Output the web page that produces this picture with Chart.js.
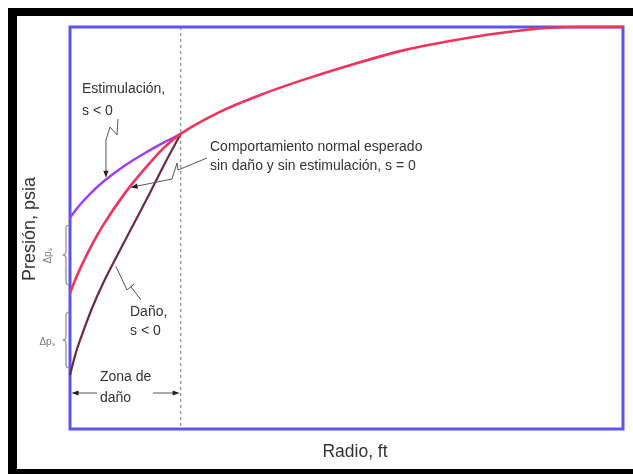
<!DOCTYPE html>
<html>
<head>
<meta charset="utf-8">
<script src="https://cdn.jsdelivr.net/npm/chart.js@4.4.1/dist/chart.umd.min.js"></script>
<style>
  html, body { margin: 0; padding: 0; background: #fff; width: 633px; height: 474px; overflow: hidden; }
  #frame { position: absolute; left: 8px; top: 8px; width: 700px; height: 453px;
           border-top: 8px solid #000; border-left: 9px solid #000; border-bottom: 8px solid #000; }
  canvas { position: absolute; left: 0; top: 0; }
</style>
</head>
<body>
<div id="frame"></div>
<canvas id="c" width="633" height="474"></canvas>
<script>
// Radius of the altered (damaged / stimulated) zone around the wellbore
const damageRadius = 20;

// Near-wellbore radii, from the wellbore wall out to the altered-zone edge
const nearRadius = [0, 1, 2, 4, 6, 10, 14, 17, 20];
// Pressure inside the altered zone for each condition
const pStimulated = [52.5, 54.4, 56.1, 59.0, 61.5, 65.6, 69.0, 71.3, 73.4];
const pNormal     = [33.8, 37.3, 40.4, 45.9, 50.7, 58.8, 65.5, 70.0, 73.4];
const pDamaged    = [13.4, 18.7, 22.8, 30.1, 36.3, 47.0, 57.5, 65.7, 73.4];

// Shared profile beyond the altered zone, out to the drainage radius
const farRadius = [20, 27.1, 34.4, 41.6, 50.6, 59.7, 68.7, 77.8, 86.8, 92.2, 100];
const pFar      = [73.4, 78.9, 83.1, 86.6, 90.5, 94.0, 96.5, 98.5, 99.8, 100, 100];

const pts = (xs, ys) => xs.map((v, i) => ({ x: v, y: ys[i] }));
const normalProfile = pts(nearRadius, pNormal).concat(pts(farRadius.slice(1), pFar.slice(1)));

// linear lookup of a curve's pressure at a given radius
function pressureAt(xs, ys, r) {
  for (let i = 1; i < xs.length; i++) {
    if (r <= xs[i]) {
      const t = (r - xs[i - 1]) / (xs[i] - xs[i - 1]);
      return ys[i - 1] + t * (ys[i] - ys[i - 1]);
    }
  }
  return ys[ys.length - 1];
}

const FONT = "'Liberation Sans', Arial, sans-serif";
const INK = '#333';
const LEADER = '#555';

function arrowHead(ctx, fx, fy, tx, ty, len, half, color) {
  const ang = Math.atan2(ty - fy, tx - fx);
  ctx.save();
  ctx.fillStyle = color;
  ctx.beginPath();
  ctx.moveTo(tx, ty);
  ctx.lineTo(tx - len * Math.cos(ang) + half * Math.sin(ang), ty - len * Math.sin(ang) - half * Math.cos(ang));
  ctx.lineTo(tx - len * Math.cos(ang) - half * Math.sin(ang), ty - len * Math.sin(ang) + half * Math.cos(ang));
  ctx.closePath();
  ctx.fill();
  ctx.restore();
}

function polyline(ctx, p, color, w) {
  ctx.save();
  ctx.strokeStyle = color; ctx.lineWidth = w;
  ctx.beginPath();
  ctx.moveTo(p[0][0], p[0][1]);
  for (let i = 1; i < p.length; i++) ctx.lineTo(p[i][0], p[i][1]);
  ctx.stroke();
  ctx.restore();
}

function brace(ctx, x, y1, y2, w) {
  const ym = (y1 + y2) / 2;
  ctx.save();
  ctx.strokeStyle = '#8a8a8a'; ctx.lineWidth = 1.2;
  ctx.beginPath();
  ctx.moveTo(x + w, y1);
  ctx.quadraticCurveTo(x, y1, x, y1 + w);
  ctx.lineTo(x, ym - w);
  ctx.quadraticCurveTo(x, ym, x - w, ym);
  ctx.quadraticCurveTo(x, ym, x, ym + w);
  ctx.lineTo(x, y2 - w);
  ctx.quadraticCurveTo(x, y2, x + w, y2);
  ctx.stroke();
  ctx.restore();
}

function text(ctx, s, x, y, size, align, color) {
  ctx.save();
  ctx.font = size + 'px ' + FONT;
  ctx.fillStyle = color || INK;
  ctx.textAlign = align || 'left';
  ctx.textBaseline = 'middle';
  ctx.fillText(s, x, y);
  ctx.restore();
}

const figurePlugin = {
  id: 'figure',
  beforeDatasetsDraw(chart) {
    const { ctx, chartArea: a, scales: { x } } = chart;
    ctx.save();
    // edge of the altered zone
    const xd = x.getPixelForValue(damageRadius);
    ctx.strokeStyle = '#9c9c9c'; ctx.lineWidth = 1.5; ctx.setLineDash([3, 3]);
    ctx.beginPath(); ctx.moveTo(xd, a.top); ctx.lineTo(xd, a.bottom); ctx.stroke();
    ctx.setLineDash([]);
    // plot frame
    ctx.strokeStyle = '#5a55ee'; ctx.lineWidth = 3;
    ctx.strokeRect(a.left, a.top, a.right - a.left, a.bottom - a.top);
    ctx.restore();
  },
  afterDatasetsDraw(chart) {
    const { ctx, chartArea: a, scales: { x, y } } = chart;
    const X = v => x.getPixelForValue(v);
    const Y = v => y.getPixelForValue(v);

    // axis titles
    text(ctx, 'Radio, ft', 355, 452, 17.5, 'center');
    ctx.save();
    ctx.translate(30, 229);
    ctx.rotate(-Math.PI / 2);
    text(ctx, 'Presión, psia', 0, 0, 18, 'center');
    ctx.restore();

    // stimulation label and leader
    text(ctx, 'Estimulación,', 82, 89, 14);
    text(ctx, 's < 0', 82, 111, 14);
    const rs = 6.5, sx = X(rs), sy = Y(pressureAt(nearRadius, pStimulated, rs)) - 2;
    polyline(ctx, [[118, 119], [117, 135], [110, 127], [sx, 140], [sx, sy - 5]], LEADER, 1);
    arrowHead(ctx, sx, sy - 10, sx, sy, 7, 2.6, '#222');

    // normal-behaviour label and leader
    text(ctx, 'Comportamiento normal esperado', 210, 147, 14);
    text(ctx, 'sin daño y sin estimulación, s = 0', 210, 166, 14);
    const rn = 10.6, nx = X(rn) + 2, ny = Y(pressureAt(nearRadius, pNormal, rn)) - 1;
    polyline(ctx, [[207, 158], [178, 170], [177, 163], [172, 179], [nx + 5, ny - 1.2]], LEADER, 1);
    arrowHead(ctx, 172, 179, nx, ny, 7, 2.6, '#222');

    // damage label and leader
    text(ctx, 'Daño,', 130, 312, 14);
    text(ctx, 's < 0', 130, 331, 14);
    const rd = 8.3, dx = X(rd), dy = Y(pressureAt(nearRadius, pDamaged, rd)) + 8;
    polyline(ctx, [[141, 300], [131, 287], [134, 284], [127, 290], [dx, dy]], LEADER, 1);

    // skin pressure-drop braces
    brace(ctx, 66, 225, 285, 3.5);
    brace(ctx, 66, 312, 368, 3.5);
    ctx.save();
    ctx.translate(48, 256);
    ctx.rotate(-Math.PI / 2);
    text(ctx, 'Δpₛ', 0, 0, 10, 'center', '#777');
    ctx.restore();
    text(ctx, 'Δpₛ', 47, 342, 10, 'center', '#777');

    // altered-zone width marker
    const zy = 393;
    text(ctx, 'Zona de', 100, 377, 14);
    text(ctx, 'daño', 100, 398, 14);
    polyline(ctx, [[97, zy], [78, zy]], LEADER, 1);
    arrowHead(ctx, 97, zy, X(0) + 1.5, zy, 7, 2.6, '#222');
    polyline(ctx, [[153, zy], [X(damageRadius) - 6, zy]], LEADER, 1);
    arrowHead(ctx, 153, zy, X(damageRadius) - 1, zy, 7, 2.6, '#222');
  }
};

new Chart(document.getElementById('c'), {
  type: 'line',
  data: {
    datasets: [
      { label: 'Normal, s = 0', data: normalProfile, borderColor: '#f2325c', borderWidth: 2.6 },
      { label: 'Estimulación, s < 0', data: pts(nearRadius, pStimulated), borderColor: '#a13cf0', borderWidth: 2.4 },
      { label: 'Daño', data: pts(nearRadius, pDamaged), borderColor: '#6e2a3c', borderWidth: 2.2 }
    ]
  },
  options: {
    responsive: false,
    animation: false,
    devicePixelRatio: 1,
    layout: { padding: { left: 70, top: 27, right: 10, bottom: 45 } },
    elements: {
      point: { radius: 0 },
      line: { cubicInterpolationMode: 'monotone', fill: false }
    },
    datasets: { line: { clip: 6 } },
    scales: {
      x: { type: 'linear', min: 0, max: 100, display: false },
      y: { type: 'linear', min: 0, max: 100, display: false }
    },
    plugins: { legend: { display: false }, tooltip: { enabled: false } }
  },
  plugins: [figurePlugin]
});
</script>
</body>
</html>
